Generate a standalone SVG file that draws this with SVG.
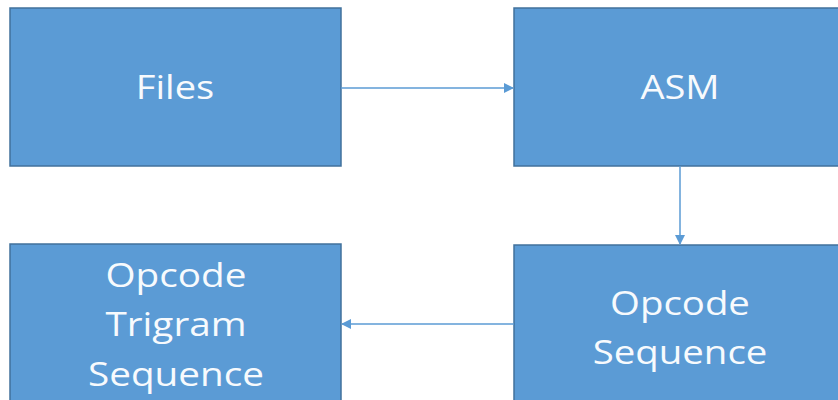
<svg xmlns="http://www.w3.org/2000/svg" width="838" height="400" viewBox="0 0 838 400">
<defs>
<style>
.box{fill:#5B9BD5;stroke:#41719C;stroke-width:1.5}
.lbl{fill:#F7FAFD;font-family:"Open Sans","Noto Sans","Liberation Sans",sans-serif;font-size:32px;text-anchor:middle}
.conn{stroke:#5B9BD5;stroke-width:1.5;fill:none}
</style>
<marker id="ah" markerWidth="10" markerHeight="10" refX="9" refY="5" orient="auto" markerUnits="userSpaceOnUse">
<path d="M0,0 L10,5 L0,10 Z" fill="#5B9BD5"/>
</marker>
</defs>
<rect width="838" height="400" fill="#FFFFFF"/>
<g id="files">
<rect class="box" x="10" y="8" width="331" height="158"/>
<text class="lbl" transform="translate(175,98.5) scale(1.19,1)">Files</text>
</g>
<g id="asm">
<rect class="box" x="514" y="8" width="331" height="158"/>
<text class="lbl" transform="translate(680,98.5) scale(1.19,1)">ASM</text>
</g>
<g id="opcode-sequence">
<rect class="box" x="514" y="245" width="331" height="170"/>
<text class="lbl" transform="translate(680,315) scale(1.2,1)">Opcode</text>
<text class="lbl" transform="translate(680,364) scale(1.2,1)">Sequence</text>
</g>
<g id="opcode-trigram-sequence">
<rect class="box" x="10" y="244" width="331" height="170"/>
<text class="lbl" transform="translate(176,287) scale(1.21,1)">Opcode</text>
<text class="lbl" transform="translate(176,336) scale(1.21,1)">Trigram</text>
<text class="lbl" transform="translate(176,386) scale(1.21,1)">Sequence</text>
</g>
<g id="connectors">
<line class="conn" x1="341" y1="88" x2="513" y2="88" marker-end="url(#ah)"/>
<line class="conn" x1="680" y1="166" x2="680" y2="244" marker-end="url(#ah)"/>
<line class="conn" x1="514" y1="324" x2="342" y2="324" marker-end="url(#ah)"/>
</g>
</svg>
